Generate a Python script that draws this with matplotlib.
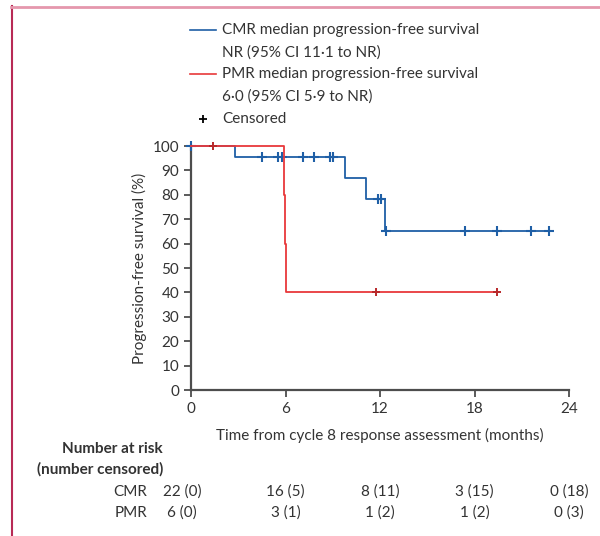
import numpy as np
import matplotlib
matplotlib.use("Agg")
import matplotlib.pyplot as plt
from matplotlib.lines import Line2D

plt.rcParams['font.family'] = ['Liberation Sans Narrow', 'Lato', 'DejaVu Sans']

# CMR group: event times (months) and survival after each event (%)
cmr_event_t = [2.8, 9.8, 11.1, 12.3]
cmr_event_s = [95.5, 86.8, 78.1, 65.0]
cmr_censor_t = [0, 4.5, 5.55, 5.8, 7.1, 7.8, 8.8, 9.0, 11.85, 12.05,
                12.35, 17.4, 19.4, 21.6, 22.7]
cmr_end = 22.7

# PMR group
pmr_event_t = [5.9, 5.95, 6.05]
pmr_event_s = [80, 60, 40]
pmr_censor_t = [1.4, 11.75, 19.4]
pmr_end = 19.4

risk_times = [0, 6, 12, 18, 24]
cmr_risk = ['22 (0)', '16 (5)', '8 (11)', '3 (15)', '0 (18)']
pmr_risk = ['6 (0)', '3 (1)', '1 (2)', '1 (2)', '0 (3)']

blue = '#1f5fa6'
red = '#e8383a'
txt = '#333333'


def step_xy(ev_t, ev_s, end):
    x = [0] + list(ev_t) + [end]
    y = [100] + list(ev_s) + [ev_s[-1]]
    return x, y


def surv_at(t, ev_t, ev_s):
    s = 100
    for et, es in zip(ev_t, ev_s):
        if et <= t:
            s = es
    return s


def fx(px):
    return px / 600


def fy(py):
    return 1 - py / 536


fig = plt.figure(figsize=(6, 5.36), dpi=100)
ax = fig.add_axes([191 / 600, 1 - 390 / 536, 378 / 600, 244 / 536])

x, y = step_xy(cmr_event_t, cmr_event_s, cmr_end)
ax.step(x, y, where='post', color=blue, lw=1.3, clip_on=False, zorder=3)
ax.plot(cmr_censor_t, [surv_at(t, cmr_event_t, cmr_event_s) for t in cmr_censor_t],
        ls='none', marker='+', ms=6.5, mew=1.5, color=blue, clip_on=False, zorder=3)

x, y = step_xy(pmr_event_t, pmr_event_s, pmr_end)
ax.step(x, y, where='post', color=red, lw=1.3, clip_on=False, zorder=4)
ax.plot(pmr_censor_t, [surv_at(t, pmr_event_t, pmr_event_s) for t in pmr_censor_t],
        ls='none', marker='+', ms=6, mew=1.4, color='#b8282a', clip_on=False, zorder=4)

ax.set_xlim(0, 24)
ax.set_ylim(0, 100)
ax.set_xticks(risk_times)
ax.set_yticks(range(0, 101, 10))
for s in ['top', 'right']:
    ax.spines[s].set_visible(False)
for s in ['left', 'bottom']:
    ax.spines[s].set_color('#4d4d4d')
    ax.spines[s].set_linewidth(1.6)
ax.tick_params(direction='out', length=5, width=1.3, color='#4d4d4d',
               labelsize=11, labelcolor=txt)
ax.set_ylabel('Progression-free survival (%)', fontsize=11, color=txt, labelpad=4)
ax.set_xlabel('Time from cycle 8 response assessment (months)', fontsize=11,
              color=txt, labelpad=9)

# legend drawn manually
fig.add_artist(Line2D([fx(190), fx(216)], [fy(30), fy(30)], color=blue, lw=1.2))
fig.add_artist(Line2D([fx(190), fx(216)], [fy(74), fy(74)], color=red, lw=1.2))
fig.add_artist(Line2D([fx(203)], [fy(119)], marker='+', ms=6, mew=1.3,
                      color='black', ls='none'))
leg_lines = ['CMR median progression-free survival', 'NR (95% CI 11·1 to NR)',
             'PMR median progression-free survival', '6·0 (95% CI 5·9 to NR)',
             'Censored']
for i, s in enumerate(leg_lines):
    fig.text(fx(222), fy(30 + 22.2 * i), s, fontsize=11, color=txt, va='center')

# number at risk table
fig.text(fx(163), fy(449), 'Number at risk', fontsize=11, weight='bold',
         color=txt, ha='right', va='center')
fig.text(fx(163), fy(469), '(number censored)', fontsize=11, weight='bold',
         color=txt, ha='right', va='center')
fig.text(fx(147), fy(492), 'CMR', fontsize=11, color=txt, ha='right', va='center')
fig.text(fx(147), fy(513), 'PMR', fontsize=11, color=txt, ha='right', va='center')
for row, labels in [(492, cmr_risk), (513, pmr_risk)]:
    for t, lab in zip(risk_times, labels):
        xt = t - 0.55 if t == 0 else t
        xp = ax.transData.transform((xt, 0))[0] / fig.dpi / 6
        fig.text(xp, fy(row), lab, fontsize=11, color=txt, ha='center', va='center')

# page border
fig.add_artist(Line2D([fx(11.5), fx(11.5)], [fy(6), 0], color='#b82a55', lw=1.5))
fig.add_artist(Line2D([fx(11), 1], [fy(6.5), fy(6.5)], color='#e597ad', lw=2))

fig.savefig('out.png', dpi=100)
